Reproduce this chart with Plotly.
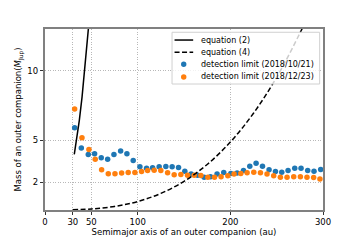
import plotly.graph_objects as go

# detection limits (au, M_Jup)
a_1021 = [32, 39.2, 46.7, 53.5, 60.7, 67.6, 74.4, 81.6, 88.4, 95.2, 102.4, 109.6, 116.1,
          123.2, 130.4, 137.2, 144.1, 150.9, 157.7, 164.6, 171.7, 178.6, 185.7, 192.9,
          200.5, 207.3, 214.2, 221, 227.8, 234.7, 241.8, 248.7, 255.5, 262.3, 269.5,
          276.3, 283.5, 290.3, 297.5]
m_1021 = [5.91, 4.45, 3.99, 4.04, 3.76, 3.65, 3.99, 4.23, 4.04, 3.56, 3.11, 3.0, 3.04,
          3.11, 3.13, 3.11, 3.06, 2.79, 2.58, 2.5, 2.36, 2.39, 2.58, 2.70,
          2.63, 2.65, 2.84, 3.15, 3.35, 3.15, 2.89, 2.77, 2.72, 2.84, 2.99,
          2.99, 2.84, 2.79, 2.91]

a_1223 = [32, 39.9, 47.4, 54.2, 61.1, 68.3, 75.5, 82.7, 89.8, 97, 104.2, 110.7, 117.8,
          125, 132.3, 139.4, 146.6, 153.8, 161, 168.2, 175.7, 182.9, 190, 197.3,
          204, 211.3, 218.1, 225.3, 232.5, 239.6, 246.8, 254, 261.2, 268.4, 275.6,
          282.7, 289.9, 296.7]
m_1223 = [7.25, 5.19, 4.35, 3.65, 2.89, 2.6, 2.6, 2.65, 2.7, 2.7, 2.77, 2.84, 2.86,
          2.84, 2.68, 2.53, 2.55, 2.5, 2.5, 2.48, 2.36, 2.36, 2.39, 2.46,
          2.58, 2.63, 2.68, 2.72, 2.68, 2.58, 2.46, 2.36, 2.36, 2.39, 2.39,
          2.36, 2.34, 2.22]

# equation curves
a_eq2 = [31.6, 34, 37, 40, 43, 46, 47.2]
m_eq2 = [4.0, 4.98, 6.42, 8.13, 10.1, 12.4, 13.3]

a_eq4 = [30, 50, 75, 100, 125, 150, 175, 200, 225, 250, 275, 285]
m_eq4 = [0.016, 0.076, 0.257, 0.61, 1.19, 2.06, 3.27, 4.88, 6.95, 9.53, 12.69, 14.1]

x_ticks = [0, 30, 50, 100, 200, 300]
y_ticks = [2, 5, 10]

BLUE = "#1f77b4"
ORANGE = "#ff7f0e"
FONT = "DejaVu Sans"

fig = go.Figure()
fig.add_trace(go.Scatter(x=a_1021, y=m_1021, mode="markers",
                         marker=dict(color=BLUE, size=5.5, line=dict(width=0)),
                         name="detection limit (2018/10/21)"))
fig.add_trace(go.Scatter(x=a_1223, y=m_1223, mode="markers",
                         marker=dict(color=ORANGE, size=5.5, line=dict(width=0)),
                         name="detection limit (2018/12/23)"))
fig.add_trace(go.Scatter(x=a_eq2, y=m_eq2, mode="lines",
                         line=dict(color="black", width=1.5), name="equation (2)"))
fig.add_trace(go.Scatter(x=a_eq4, y=m_eq4, mode="lines", line_shape="spline",
                         line=dict(color="black", width=1.5, dash="5px,2.5px"),
                         name="equation (4)"))

axis_common = dict(
    showline=True, linecolor="#808080", linewidth=1.5, mirror=True,
    showgrid=True, gridcolor="#b8b8b8", gridwidth=0.8, griddash="1px,1.5px",
    ticks="outside", ticklen=3.5, tickcolor="#333333", tickwidth=1,
    zeroline=False, automargin=False,
    tickfont=dict(family=FONT, size=8.5, color="black"),
)

# page body has an 8px margin, so the figure is sized/offset to compensate
fig.update_layout(
    width=352, height=232,
    margin=dict(l=37, r=37, t=21, b=30),
    paper_bgcolor="white", plot_bgcolor="white",
    showlegend=False,
    font=dict(family=FONT, size=8.5, color="black"),
    xaxis=dict(range=[0, 300], tickvals=x_ticks, ticktext=[str(v) for v in x_ticks],
               title=dict(text="Semimajor axis of an outer companion (au)",
                          font=dict(family=FONT, size=8.5), standoff=1),
               **axis_common),
    yaxis=dict(range=[0, 13], tickvals=y_ticks, ticktext=[str(v) for v in y_ticks],
               title=dict(text="Mass of an outer companion(<i>M</i><sub>Jup</sub>)",
                          font=dict(family=FONT, size=8.5), standoff=4),
               **axis_common),
)

# manual legend (matplotlib style)
shapes = [
    dict(type="rect", xref="paper", yref="paper", x0=0.457, x1=0.988, y0=0.696, y1=0.982,
         line=dict(color="#d0d0d0", width=1), fillcolor="rgba(255,255,255,0.8)", layer="above"),
    dict(type="line", xref="paper", yref="paper", x0=0.466, x1=0.533, y0=0.939, y1=0.939,
         line=dict(color="black", width=1.5), layer="above"),
    dict(type="line", xref="paper", yref="paper", x0=0.466, x1=0.533, y0=0.871, y1=0.871,
         line=dict(color="black", width=1.5, dash="5px,2.5px"), layer="above"),
]
for yy, col in [(0.805, BLUE), (0.735, ORANGE)]:
    shapes.append(dict(type="circle", xref="paper", yref="paper",
                       xsizemode="pixel", ysizemode="pixel",
                       xanchor=0.499, yanchor=yy, x0=-2.7, x1=2.7, y0=-2.7, y1=2.7,
                       fillcolor=col, line=dict(width=0), layer="above"))
fig.update_layout(shapes=shapes)

labels = ["equation (2)", "equation (4)",
          "detection limit (2018/10/21)", "detection limit (2018/12/23)"]
ys = [0.939, 0.871, 0.805, 0.735]
for t, yy in zip(labels, ys):
    fig.add_annotation(xref="paper", yref="paper", x=0.553, y=yy, text=t,
                       showarrow=False, xanchor="left", yanchor="middle",
                       font=dict(family=FONT, size=8, color="black"))

fig.write_html("out.html")
